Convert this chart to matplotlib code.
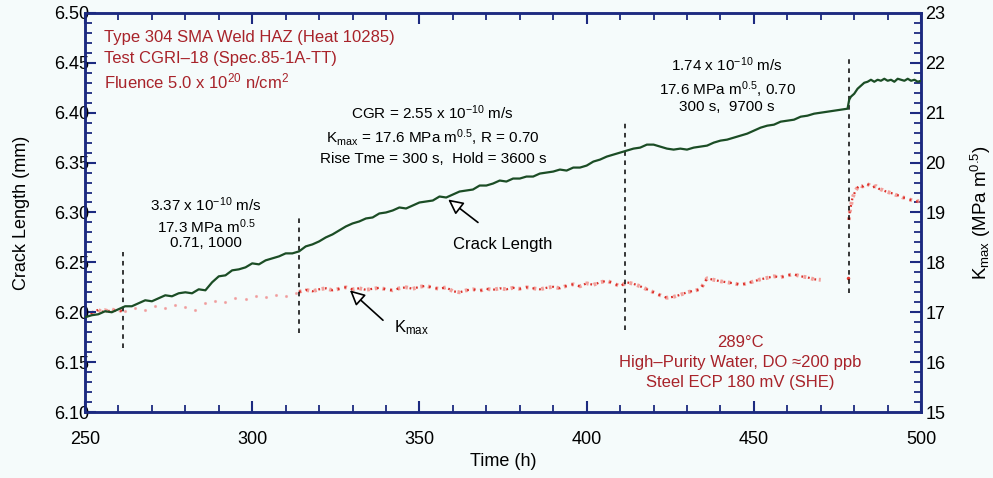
import numpy as np
import matplotlib
matplotlib.use("Agg")
import matplotlib.pyplot as plt
from matplotlib.ticker import MultipleLocator

plt.rcParams['font.family'] = ['Liberation Sans', 'DejaVu Sans']
plt.rcParams['mathtext.fontset'] = 'custom'
plt.rcParams['mathtext.rm'] = 'Liberation Sans'
plt.rcParams['mathtext.it'] = 'Liberation Sans'

### crack length (mm), sampled every 2 h, then the step after the last change
crack_hours_a = np.arange(250, 471, 2)
crack_mm_a = [6.195, 6.197, 6.198, 6.201, 6.200, 6.203, 6.206, 6.206, 6.209, 6.212,
              6.211, 6.214, 6.217, 6.216, 6.219, 6.220, 6.219, 6.223, 6.222, 6.230,
              6.236, 6.237, 6.242, 6.243, 6.245, 6.249, 6.248, 6.252, 6.254, 6.256,
              6.259, 6.259, 6.261, 6.266, 6.268, 6.271, 6.275, 6.278, 6.282, 6.286,
              6.289, 6.291, 6.294, 6.295, 6.299, 6.300, 6.302, 6.305, 6.304, 6.307,
              6.310, 6.311, 6.312, 6.316, 6.315, 6.318, 6.321, 6.322, 6.323, 6.327,
              6.327, 6.329, 6.332, 6.331, 6.334, 6.334, 6.336, 6.336, 6.339, 6.340,
              6.341, 6.343, 6.342, 6.345, 6.345, 6.347, 6.351, 6.353, 6.356, 6.358,
              6.360, 6.362, 6.364, 6.365, 6.368, 6.368, 6.366, 6.364, 6.363, 6.364,
              6.363, 6.365, 6.366, 6.367, 6.370, 6.372, 6.373, 6.375, 6.377, 6.379,
              6.382, 6.385, 6.387, 6.388, 6.391, 6.392, 6.393, 6.396, 6.397, 6.399,
              6.400]
crack_hours_b = [478, 478.5, 479, 480, 481, 482, 483, 484, 485, 486, 487, 488,
                 489, 490, 491, 492, 493, 494, 495, 496, 497, 498, 499, 500]
crack_mm_b = [6.404, 6.413, 6.416, 6.419, 6.424, 6.427, 6.430, 6.431, 6.433, 6.431,
              6.433, 6.432, 6.434, 6.432, 6.433, 6.431, 6.434, 6.433, 6.432, 6.434,
              6.432, 6.433, 6.431, 6.432]

### Kmax (MPa m^0.5)
kmax_hours_1 = np.arange(250, 262, 1)
kmax_1 = [17.00, 17.03, 16.98, 17.02, 17.05, 17.00, 17.04, 17.02, 17.06, 17.03, 17.05, 17.02]

kmax_hours_2 = np.arange(262, 314, 3)
kmax_2 = [17.02, 17.08, 17.05, 17.12, 17.08, 17.15, 17.10, 17.05, 17.18,
          17.22, 17.20, 17.28, 17.26, 17.32, 17.30, 17.35, 17.33, 17.38]

kmax_hours_3 = np.arange(314, 471, 2)
kmax_3 = [17.41, 17.45, 17.42, 17.46, 17.48, 17.44, 17.47, 17.50, 17.46, 17.48,
          17.45, 17.47, 17.49, 17.46, 17.44, 17.48, 17.50, 17.47, 17.51, 17.53,
          17.49, 17.47, 17.50, 17.42, 17.40, 17.44, 17.46, 17.43, 17.47, 17.45,
          17.48, 17.46, 17.49, 17.47, 17.50, 17.48, 17.46, 17.49, 17.51, 17.48,
          17.53, 17.56, 17.52, 17.58, 17.55, 17.60, 17.63, 17.58, 17.52, 17.60,
          17.57, 17.52, 17.46, 17.40, 17.34, 17.29, 17.31, 17.35, 17.40, 17.43,
          17.46, 17.68, 17.65, 17.62, 17.60, 17.58, 17.55, 17.58, 17.62, 17.66,
          17.69, 17.72, 17.70, 17.74, 17.76, 17.72, 17.70, 17.66, 17.65]

kmax_hours_4 = [478.2, 478.4, 478.6, 479.5, 480.5, 481.5, 482.5, 483.5, 484.5, 485.5,
                486.5, 487.5, 488.5, 489.5, 490.5, 491.5, 492.5, 493.5, 494.5, 495.5,
                496.5, 497.5, 498.5, 499.5]
kmax_4 = [17.69, 18.85, 18.99, 19.30, 19.45, 19.55, 19.52, 19.58, 19.55, 19.50,
          19.53, 19.47, 19.45, 19.42, 19.40, 19.38, 19.35, 19.34, 19.30, 19.29,
          19.26, 19.24, 19.22, 19.23]

### changes in loading conditions: time, bottom and top of marker (crack length scale)
change_hours = [261.5, 314, 411.5, 478.3]
change_low = [6.164, 6.179, 6.182, 6.219]
change_high = [6.260, 6.296, 6.391, 6.458]

navy = '#1c2a80'
dark_red = '#a8232a'
bg = '#f5fbfb'

fig = plt.figure(figsize=(9.93, 4.78), dpi=100, facecolor=bg)
ax = fig.add_axes([0.0856, 0.138, 0.842, 0.835], facecolor=bg)
ax2 = ax.twinx()

# Kmax points first so the crack length trace sits on top
ax2.plot(kmax_hours_2, kmax_2, ls='none', marker='.', ms=2.5, color='#f08a8a', alpha=0.6)
for hh, kk in [(kmax_hours_1, kmax_1), (kmax_hours_3, kmax_3), (kmax_hours_4[1:], kmax_4[1:])]:
    ax2.plot(hh, kk, ls=(0, (0.7, 1.3)), lw=2.8, color='#f28a84', alpha=0.8)
    ax2.plot(hh, kk, ls=(0, (0.8, 2.2)), lw=1.6, color='#dc2f28')
ax2.plot(kmax_hours_4[:1], kmax_4[:1], ls='none', marker='.', ms=3, color='#e23a32')

ax.plot(np.concatenate([crack_hours_a, crack_hours_b]), crack_mm_a + crack_mm_b,
        color='#1b4d25', lw=1.6, zorder=5)
ax.set_zorder(ax2.get_zorder() + 1)
ax.patch.set_visible(False)

for h, lo, hi in zip(change_hours, change_low, change_high):
    ax.plot([h, h], [lo, hi], color='black', lw=1.1, ls=(0, (3, 3)), zorder=4)

ax.set_xlim(250, 500)
ax.set_ylim(6.10, 6.50)
ax2.set_ylim(15, 23)

ax.xaxis.set_major_locator(MultipleLocator(50))
ax.xaxis.set_minor_locator(MultipleLocator(10))
ax.yaxis.set_major_locator(MultipleLocator(0.05))
ax.yaxis.set_minor_locator(MultipleLocator(0.01))
ax2.yaxis.set_major_locator(MultipleLocator(1))
ax2.yaxis.set_minor_locator(MultipleLocator(0.2))
ax.yaxis.set_major_formatter(plt.FormatStrFormatter('%.2f'))

ax.tick_params(axis='x', which='both', direction='in', top=True, colors=navy,
               labelcolor='black', labelsize=13)
ax.tick_params(axis='y', which='both', direction='in', right=False, colors=navy,
               labelcolor='black', labelsize=13)
ax2.tick_params(axis='y', which='both', direction='in', colors=navy,
                labelcolor='black', labelsize=13)
for a in (ax, ax2):
    a.tick_params(which='major', length=8, width=1.5)
    a.tick_params(which='minor', length=5, width=1.3)
    for s in a.spines.values():
        s.set_color(navy)
        s.set_linewidth(1.8)
ax.tick_params(axis='x', which='major', pad=14)
ax.tick_params(axis='y', which='major', pad=-3)
ax2.tick_params(axis='y', which='major', pad=3)

ax.set_xlabel('Time (h)', fontsize=13, labelpad=3)
ax.set_ylabel('Crack Length (mm)', fontsize=13, labelpad=17)
ax2.set_ylabel('K$_{max}$ (MPa m$^{0.5}$)', fontsize=13.5, labelpad=17)

# test description
ax.text(255.7, 6.475, 'Type 304 SMA Weld HAZ (Heat 10285)', color=dark_red, fontsize=12, va='center')
ax.text(255.7, 6.454, 'Test CGRI\u201318 (Spec.85-1A-TT)', color=dark_red, fontsize=12, va='center')
ax.text(255.7, 6.431, 'Fluence 5.0 x 10$^{20}$ n/cm$^2$', color=dark_red, fontsize=12, va='center')

# growth rates for each loading period
ax.text(286.2, 6.308, '3.37 x 10$^{\u221210}$ m/s', fontsize=11, ha='center', va='center')
ax.text(286.2, 6.286, '17.3 MPa m$^{0.5}$', fontsize=11, ha='center', va='center')
ax.text(286.2, 6.269, '0.71, 1000', fontsize=11, ha='center', va='center')

ax.text(354, 6.400, 'CGR = 2.55 x 10$^{\u221210}$ m/s', fontsize=11, ha='center', va='center')
ax.text(354, 6.375, 'K$_{max}$ = 17.6 MPa m$^{0.5}$, R = 0.70', fontsize=11, ha='center', va='center')
ax.text(354, 6.354, 'Rise Tme = 300 s,  Hold = 3600 s', fontsize=11, ha='center', va='center')

ax.text(442, 6.448, '1.74 x 10$^{\u221210}$ m/s', fontsize=11, ha='center', va='center')
ax.text(442, 6.423, '17.6 MPa m$^{0.5}$, 0.70', fontsize=11, ha='center', va='center')
ax.text(442, 6.406, '300 s,  9700 s', fontsize=11, ha='center', va='center')

# environment
ax.text(445.9, 6.170, '289\u00b0C', color=dark_red, fontsize=12, ha='center', va='center')
ax.text(445.9, 6.150, 'High\u2013Purity Water, DO \u2248200 ppb', color=dark_red, fontsize=12,
        ha='center', va='center')
ax.text(445.9, 6.130, 'Steel ECP 180 mV (SHE)', color=dark_red, fontsize=12, ha='center', va='center')

arrow = dict(arrowstyle='-|>,head_length=0.9,head_width=0.45', fc='white', ec='black', lw=1.2,
             shrinkA=0, shrinkB=0)
ax.annotate('', xy=(358.6, 6.313), xytext=(367.5, 6.290), arrowprops=arrow, zorder=6)
ax.text(375, 6.268, 'Crack Length', fontsize=12, ha='center', va='center')
ax.annotate('', xy=(329.2, 6.222), xytext=(339.1, 6.192), arrowprops=arrow, zorder=6)
ax.text(347.5, 6.185, 'K$_{max}$', fontsize=12, ha='center', va='center')

fig.savefig('out.png', dpi=100, facecolor=bg)
